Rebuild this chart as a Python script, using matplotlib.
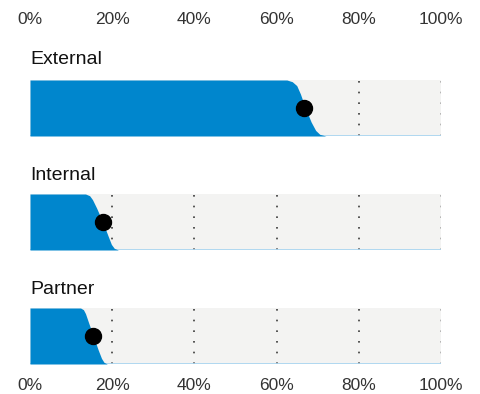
import matplotlib.pyplot as plt

# data
groups = ['External', 'Internal', 'Partner']
means = [66.7, 17.8, 15.4]
# edge of the blue area (x in %) at these heights of each band (0 = bottom, 1 = top)
levels = [0, 0.03, 0.1, 0.25, 0.5, 0.75, 0.9, 0.97, 1]
edge_external = [72.0, 70.5, 69.5, 68.4, 67.0, 65.8, 64.9, 63.8, 62.5]
edge_internal = [21.5, 20.5, 19.8, 19.0, 17.7, 16.2, 15.2, 14.5, 13.5]
edge_partner = [18.8, 18.0, 17.4, 16.6, 15.4, 14.2, 13.5, 13.0, 12.3]
edges = [edge_external, edge_internal, edge_partner]
ticks = [0, 20, 40, 60, 80, 100]
tick_labels = ['0%', '20%', '40%', '60%', '80%', '100%']

plt.rcParams['font.family'] = ['Liberation Sans', 'DejaVu Sans']

W, H = 481, 394
fig = plt.figure(figsize=(W / 100, H / 100), dpi=100)

blue = '#0086cd'
gray_bg = '#f3f3f2'
bottoms = [136, 250, 364]   # pixel y of each band's bottom
title_y = [60, 176, 290]

axes = []
for i, name in enumerate(groups):
    ax = fig.add_axes([30 / W, (H - bottoms[i]) / H, 411 / W, 56 / H])
    ax.set_facecolor(gray_bg)
    ax.set_xlim(0, 100)
    ax.set_ylim(0, 1)
    for t in ticks[1:]:
        ax.axvline(t, color='#3a3a3a' if t < 100 else '#aaaaaa', lw=1.2,
                   ls=(0, (1, 5.4)), zorder=1)
    ax.fill_betweenx(levels, 0, edges[i], color=blue, lw=0, zorder=2)
    # thin light-blue base line under the grey part
    ax.plot([0, 100], [0, 0], color='#a9d5f0', lw=2, zorder=1.5)
    ax.plot([means[i]], [0.5], 'o', color='black', ms=11.5, zorder=4, clip_on=False)
    for s in ax.spines.values():
        s.set_visible(False)
    ax.set_yticks([])
    ax.set_xticks(ticks)
    ax.tick_params(length=0, labelbottom=False, labelsize=12.5, labelcolor='#333333')
    fig.text(30 / W, 1 - title_y[i] / H, name, fontsize=14, color='#111111',
             ha='left', va='center')
    axes.append(ax)

axes[0].set_xticklabels(tick_labels)
axes[0].tick_params(labeltop=True, pad=38)
axes[-1].set_xticklabels(tick_labels)
axes[-1].tick_params(labelbottom=True, pad=10)

fig.savefig('out.png', dpi=100)
